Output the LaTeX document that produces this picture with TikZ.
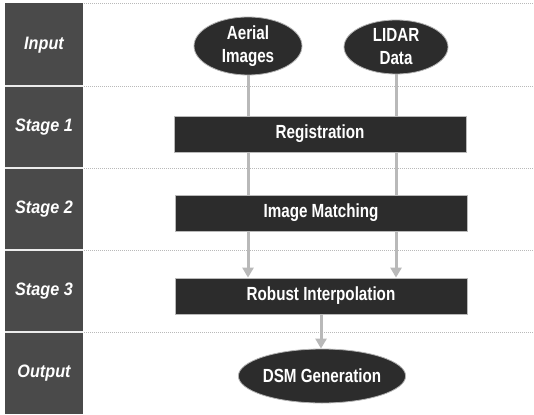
\documentclass[tikz,border=0pt]{standalone}
\usepackage{fontspec}
\setmainfont{Liberation Sans}
\newfontfamily\narrowfont[FakeStretch=0.9]{Liberation Sans}
\newfontfamily\condfont[FakeStretch=0.8]{Liberation Sans}
\usetikzlibrary{shapes.geometric,arrows.meta}
\pgfdeclarelayer{bglayer}
\pgfdeclarelayer{arrowlayer}
\pgfsetlayers{bglayer,arrowlayer,main}
\definecolor{shapedark}{HTML}{2C2C2C}
\definecolor{coldark}{HTML}{4A4A4A}
\begin{document}
\begin{tikzpicture}[x=1pt,y=-1pt,
  lab/.style={font=\narrowfont\fontsize{18}{20}\selectfont\bfseries\itshape, text=white},
  oval/.style={ellipse, fill=shapedark, draw=gray!60, line width=0.8pt, text=white,
    font=\condfont\fontsize{19}{23}\selectfont\bfseries, inner sep=0pt, align=center},
  stepbox/.style={rectangle, fill=shapedark, draw=gray!55, line width=0.8pt,
    minimum width=292pt, minimum height=36pt, text=white, inner sep=0pt,
    font=\condfont\fontsize{19}{21}\selectfont\bfseries},
  sep/.style={gray!55, dash pattern=on 1pt off 1pt, line width=0.6pt},
  colline/.style={white!85!gray, line width=1.5pt},
  flow/.style={line width=3pt, draw=gray!55, -{Triangle[length=10pt,width=11pt,fill=gray!55]}}]
\begin{pgfonlayer}{bglayer}
\useasboundingbox (0,0) rectangle (534,414);
\fill[white] (0,0) rectangle (534,414);
% left column
\fill[coldark] (5,3) rectangle (83,414);
\foreach \yy in {86,168,250,332} {
  \draw[colline] (5,\yy) -- (83,\yy);
  \draw[sep] (84,\yy) -- (534,\yy);
}
\draw[sep] (84,3.5) -- (534,3.5);
\node[lab] (linput) at (44,45) {Input};
\node[lab] (ls1) at (44,127) {Stage 1};
\node[lab] (ls2) at (44,209) {Stage 2};
\node[lab] (ls3) at (44,291) {Stage 3};
\node[lab] (lout) at (44,373) {Output};
\end{pgfonlayer}

% nodes
\node[oval, minimum width=108pt, minimum height=58pt] (aerial) at (248,46) {Aerial\\Images};
\node[oval, minimum width=104pt, minimum height=54pt] (lidar) at (396,47) {LIDAR\\Data};
\node[stepbox] (reg) at (320,134) {Registration};
\node[stepbox] (match) at (321,213) {Image Matching};
\node[stepbox] (robust) at (321,296) {Robust Interpolation};
\node[oval, minimum width=140pt, minimum height=54pt] (dsm) at (322,376) {DSM Generation};

% connectors behind the boxes
\begin{pgfonlayer}{arrowlayer}
  \draw[flow] (aerial.south) -- (aerial.south |- robust.north);
  \draw[flow] (lidar.south) -- (lidar.south |- robust.north);
  \draw[flow] (robust.south) -- (robust.south |- dsm.north);
\end{pgfonlayer}
\end{tikzpicture}
\end{document}
